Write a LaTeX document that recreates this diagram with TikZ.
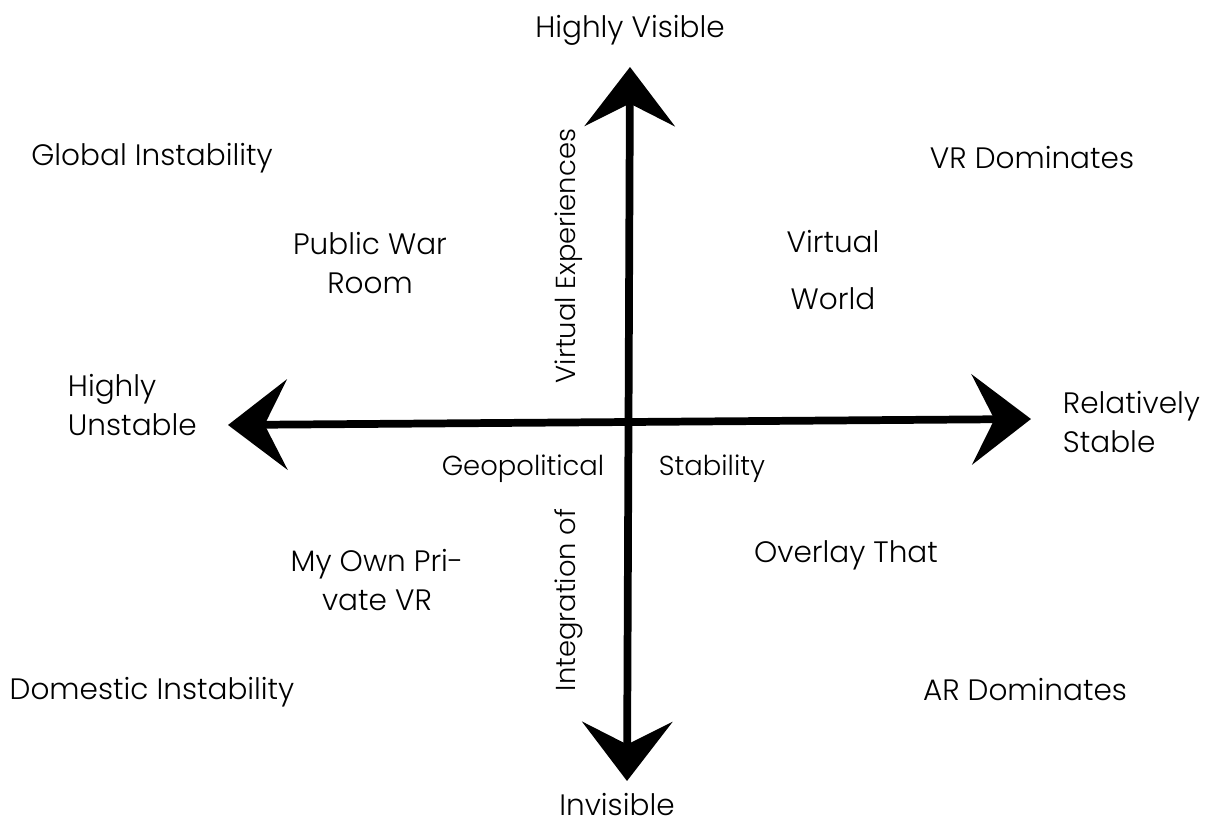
\documentclass[tikz,border=0pt]{standalone}
\usepackage{fontspec}
\setmainfont{Poppins}[UprightFont=* Light]
\usetikzlibrary{arrows.meta}

\begin{document}
\begin{tikzpicture}[x=0.025cm,y=-0.025cm,
    chevron/.tip={Stealth[length=42pt,width=64pt,inset=16pt]},
    axis/.style={line width=5.5pt,chevron-chevron},
    lbl/.style={font=\fontsize{21}{28}\selectfont,align=center},
    small/.style={font=\fontsize{19.5}{24}\selectfont}]
    \useasboundingbox (0,0) rectangle (1206,829);

    % Axis ends
    \coordinate (top) at (630,67);
    \coordinate (bottom) at (627,781);
    \coordinate (west) at (228,425);
    \coordinate (east) at (1031,419);

    % Axes
    \draw[axis] (west) -- (east);
    \draw[axis] (bottom) -- (top);

    % Axis labels
    \node[lbl] (visible) at (630,30) {Highly Visible};
    \node[lbl] (invisible) at (617,805) {Invisible};
    \node[lbl,anchor=west,align=left] (unstable) at (63,405) {Highly\\Unstable};
    \node[lbl,anchor=west,align=left] (stable) at (1058,422) {Relatively\\Stable};
    \node[small] (geo) at (523,469) {Geopolitical};
    \node[small] (stability) at (712,469) {Stability};
    \node[small,rotate=90] (virtexp) at (569,256) {Virtual Experiences};
    \node[small,rotate=90] (integ) at (569,600) {Integration of};

    % Corners
    \node[lbl] (global) at (152,158) {Global Instability};
    \node[lbl] (vrdom) at (1032,158) {VR Dominates};
    \node[lbl] (domestic) at (152,692) {Domestic Instability};
    \node[lbl] (ardom) at (1025,690) {AR Dominates};

    % Scenarios
    \node[lbl] (warroom) at (370,263) {Public War\\Room};
    \node[lbl] (world) at (833,270) {Virtual\\[12pt]World};
    \node[lbl] (private) at (377,580) {My Own Pri-\\vate VR};
    \node[lbl] (overlay) at (846,555) {Overlay That};
\end{tikzpicture}
\end{document}
